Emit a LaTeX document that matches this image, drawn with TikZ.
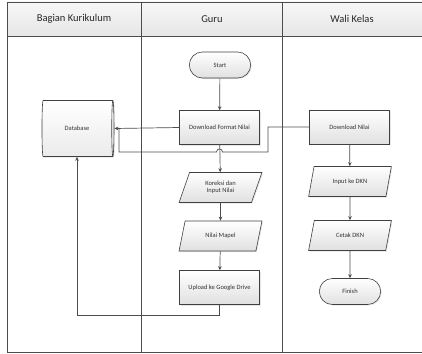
\documentclass[tikz,border=0pt]{standalone}
\usepackage{fontspec}
\setmainfont{Carlito}
\usetikzlibrary{shapes.geometric,shapes.misc,arrows.meta,shadows}
\tikzset{
  flow/.style={draw=black!75, line width=0.6pt, top color=white, bottom color=black!12,
    font=\fontsize{6.5}{7.5}\selectfont, text=black!80, align=center,
    drop shadow={shadow xshift=1pt, shadow yshift=-1pt, opacity=0.2}},
  proses/.style={flow, rectangle, minimum width=80pt, minimum height=34pt, inner sep=1pt},
  terminal/.style={flow, rounded rectangle, minimum width=68pt, minimum height=26pt},
  datain/.style={flow, trapezium, trapezium left angle=70, trapezium right angle=110,
    trapezium stretches=true, minimum width=83pt, minimum height=30pt, inner sep=1pt},
  basisdata/.style={flow, cylinder, aspect=0.2, minimum width=56pt, minimum height=72pt,
    bottom color=black!8},
  garis/.style={draw=black!70, line width=0.7pt},
  lajur/.style={font=\fontsize{10.5}{12}\selectfont, text=black!85},
}
\begin{document}
\begin{tikzpicture}[x=1pt, y=-1pt, >={Stealth[length=4pt,width=3.5pt]}]
  \useasboundingbox (0,0) rectangle (422,353);

  \shade[top color=black!3, bottom color=black!10] (7,2) rectangle (424,36);
  \draw[garis] (7,2) rectangle (424,352);
  \draw[garis] (7,36) -- (424,36);
  \draw[garis] (141,2) -- (141,352);
  \draw[garis] (282,2) -- (282,352);

  \node[lajur] (kurikulum) at (74,19) {Bagian Kurikulum};
  \node[lajur] (guru) at (212,19) {Guru};
  \node[lajur] (wali) at (352,19) {Wali Kelas};

  \node[terminal] (start) at (220,65) {Start};
  \node[proses] (dfn) at (219.5,127.5) {Download Format Nilai};
  \node[basisdata] (db) at (77,128.5) {Database};
  \node[datain] (koreksi) at (220.5,187.5) {Koreksi dan\\Input Nilai};
  \node[datain] (mapel) at (220.5,236) {Nilai Mapel};
  \node[proses] (upload) at (219.5,287.5) {Upload ke Google Drive};

  \node[proses] (dn) at (349.5,127) {Download Nilai};
  \node[datain] (inputdkn) at (350,181.5) {Input ke DKN};
  \node[datain] (cetak) at (350,235.5) {Cetak DKN};
  \node[terminal] (finish) at (350,291.5) {Finish};

  \coordinate (j1) at (268,152);
  \coordinate (hopR) at (222.5,152);
  \coordinate (hopL) at (216.5,152);
  \coordinate (j2) at (119,152);
  \coordinate (j3) at (119,127.5);

  \draw[garis, ->] (start) -- (dfn);
  \draw[garis, ->] (dfn.west) -- (db.east);
  \draw[garis] (dn.west) -| (j1) -- (hopR) .. controls +(0,-4) and +(0,-4) .. (hopL) -- (j2) -- (j3);
  \draw[garis, ->] (dfn) -- (koreksi);
  \draw[garis, ->] (koreksi) -- (mapel);
  \draw[garis, ->] (mapel) -- (upload);
  \draw[garis, ->] (upload.south) -- ++(0,11) -| (db.south);

  \draw[garis, ->] (dn) -- (inputdkn);
  \draw[garis, ->] (inputdkn) -- (cetak);
  \draw[garis, ->] (cetak) -- (finish);
\end{tikzpicture}
\end{document}
